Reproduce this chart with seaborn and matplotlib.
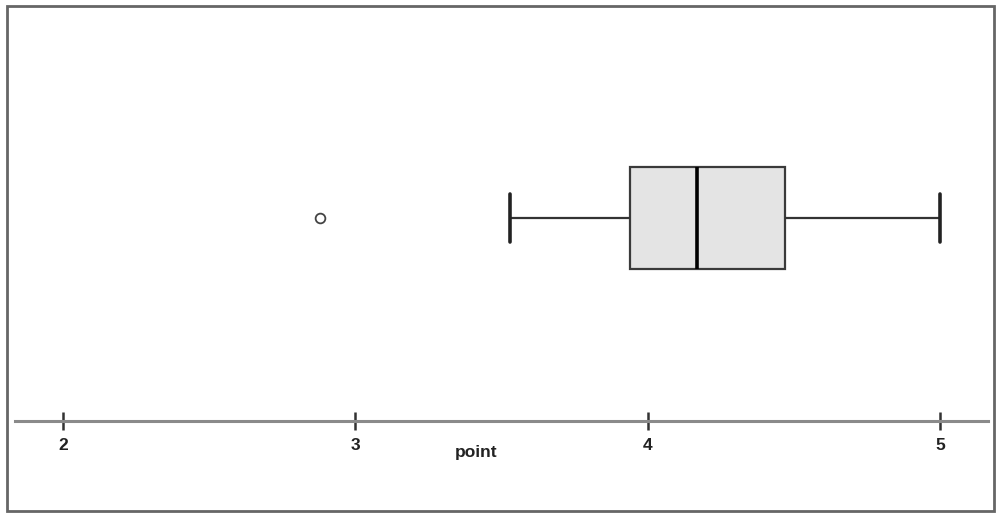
import matplotlib
matplotlib.use("Agg")
import matplotlib.pyplot as plt
import seaborn as sns
import pandas as pd
from matplotlib.patches import Rectangle

# data (scores)
point = [2.88, 3.53, 3.70, 3.94, 4.00, 4.10, 4.17, 4.25, 4.35, 4.47, 4.60, 4.80, 5.00]
xticks = [2, 3, 4, 5]
xlabel = "point"

df = pd.DataFrame({"point": point})

sns.set_style("white")
plt.rcParams["font.family"] = ["Liberation Sans", "DejaVu Sans"]

W, H = 996, 514
fig = plt.figure(figsize=(W / 100, H / 100), dpi=100)
left, right, top, bottom = 15, 988, 6, 421
ax = fig.add_axes([left / W, 1 - bottom / H, (right - left) / W, (bottom - top) / H])

sns.boxplot(
    data=df, x="point", orient="h", ax=ax, width=0.8,
    color="#e4e4e4", linecolor="#3a3a3a", linewidth=1.6,
    capwidths=0.37,
    medianprops=dict(color="black", linewidth=2.6),
    capprops=dict(color="#222222", linewidth=2.6),
    whiskerprops=dict(color="#333333", linewidth=1.6),
    flierprops=dict(marker="o", markersize=7, markerfacecolor="none",
                    markeredgecolor="#444444", markeredgewidth=1.3),
)

ax.set_xlim(1.8358, 5.1642)
ax.set_ylim(1.592, -1.663)
for s in ["top", "left", "right"]:
    ax.spines[s].set_visible(False)
ax.spines["bottom"].set_color("#8a8a8a")
ax.spines["bottom"].set_linewidth(2.2)
ax.set_yticks([])
ax.set_ylabel("")
ax.set_xlabel("")
ax.set_xticks(xticks)
ax.set_xticklabels([str(t) for t in xticks], fontweight="bold", fontsize=12.5, color="#222222")
ax.tick_params(axis="x", direction="inout", length=13, width=1.8, color="#333333", pad=6, bottom=True)
ax.patch.set_alpha(0)

fig.text(476 / W, 1 - 452 / H, xlabel, ha="center", va="center",
         fontweight="bold", fontsize=12.5, color="#222222")

fig.patches.append(Rectangle((7 / W, 1 - 511 / H), (994 - 7) / W, (511 - 6) / H,
                             transform=fig.transFigure, fill=False,
                             edgecolor="#666666", linewidth=2.0))

fig.savefig("out.png", dpi=100)
